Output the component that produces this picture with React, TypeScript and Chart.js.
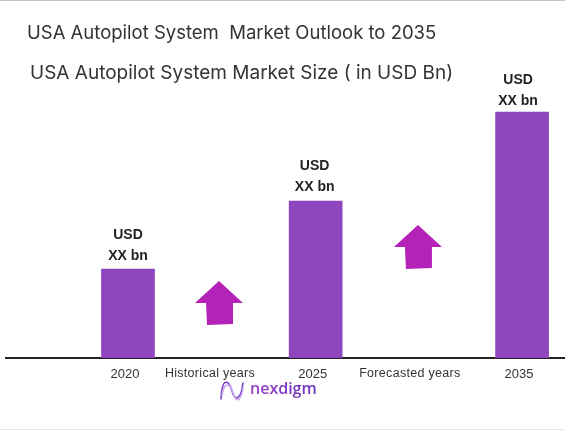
import React, { useEffect, useRef } from "react";
import { Chart, registerables } from "chart.js";

Chart.register(...registerables);

const slots = ["", "", "", "", "", "", "2020", "", "", "", "", "", "", "", "", "", "2025", "", "", "", "", "", "", "", "", "", "", "2035", "", ""];
const marketSize = [null, null, null, null, null, null, 8.9, null, null, null, null, null, null, null, null, null, 15.7, null, null, null, null, null, null, null, null, null, null, 24.6, null, null];
const barLabelTop = ["USD", "USD", "USD"];
const barLabelBottom = ["XX bn", "XX bn", "XX bn"];
const periodLabels = ["Historical years", "Forecasted years"];
const periodSlots = [10.37, 21.02];
const arrowSlots = [10.85, 21.45];
const arrowTops = [7.7, 13.3];
const titleText = "USA Autopilot System  Market Outlook to 2035";
const subtitleText = "USA Autopilot System Market Size ( in USD Bn)";

const overlay = {
  id: "overlay",
  beforeDraw(chart: any) {
    const { ctx, width, height } = chart;
    ctx.save();
    ctx.fillStyle = "#ffffff";
    ctx.fillRect(0, 0, width, height);
    ctx.fillStyle = "#c4c4c4";
    ctx.fillRect(0, 0, width, 1);
    ctx.fillStyle = "#e6e6e6";
    ctx.fillRect(0, height - 1, width, 1);
    ctx.restore();
  },
  afterDraw(chart: any) {
    const { ctx, scales } = chart;
    const x = scales.x;
    const y = scales.y;
    ctx.save();

    // titles
    ctx.textBaseline = "middle";
    ctx.textAlign = "left";
    ctx.fillStyle = "#333333";
    ctx.font = "18.5px Inter";
    ctx.fillText(titleText, 27, 33);
    ctx.font = "19px Inter";
    ctx.fillText(subtitleText, 30, 73);

    // labels over the bars, the reference has them a bit uneven
    const labelNudgeX = [0, -1, -4];
    const labelNudgeY = [0, -1, 2];
    ctx.textAlign = "center";
    ctx.fillStyle = "#222222";
    ctx.font = "bold 14px 'Liberation Sans'";
    let barIndex = 0;
    marketSize.forEach((value, i) => {
      if (value === null) return;
      const bar = chart.getDatasetMeta(0).data[i];
      const lx = bar.x + labelNudgeX[barIndex];
      const ly = bar.y + labelNudgeY[barIndex];
      ctx.fillText(barLabelTop[barIndex], lx, ly - 34);
      ctx.fillText(barLabelBottom[barIndex], lx, ly - 13);
      barIndex += 1;
    });

    // period labels between the bars
    ctx.fillStyle = "#333333";
    ctx.font = "12.5px 'Liberation Sans'";
    ctx.letterSpacing = "0.3px";
    periodLabels.forEach((label, i) => {
      ctx.fillText(label, x.getPixelForValue(periodSlots[i]), 374);
    });
    ctx.letterSpacing = "0px";

    // growth arrows
    ctx.fillStyle = "#b522b8";
    arrowSlots.forEach((slot, i) => {
      const cx = x.getPixelForValue(slot);
      const top = y.getPixelForValue(arrowTops[i]);
      ctx.beginPath();
      ctx.moveTo(cx, top);
      ctx.lineTo(cx + 24, top + 22);
      ctx.lineTo(cx + 14, top + 22);
      ctx.lineTo(cx + 14, top + 43);
      ctx.lineTo(cx - 12, top + 44);
      ctx.lineTo(cx - 13, top + 22);
      ctx.lineTo(cx - 24, top + 22);
      ctx.closePath();
      ctx.fill();
    });

    // logo
    ctx.lineCap = "round";
    ctx.lineWidth = 1.6;
    ctx.strokeStyle = "#7a3fc8";
    ctx.beginPath();
    ctx.moveTo(221, 399);
    ctx.bezierCurveTo(222, 376, 229, 380, 232, 391);
    ctx.bezierCurveTo(235, 402, 241, 400, 243, 383);
    ctx.stroke();
    ctx.strokeStyle = "#c9a9e8";
    ctx.beginPath();
    ctx.moveTo(222, 396);
    ctx.bezierCurveTo(224, 380, 231, 384, 233, 393);
    ctx.bezierCurveTo(236, 403, 241, 402, 243, 388);
    ctx.stroke();

    const gradient = ctx.createLinearGradient(250, 0, 315, 0);
    gradient.addColorStop(0, "#9a3fc4");
    gradient.addColorStop(1, "#6d35c4");
    ctx.fillStyle = gradient;
    ctx.textAlign = "left";
    ctx.font = "600 16px 'Open Sans'";
    ctx.fillText("nexdigm", 250, 389);

    ctx.restore();
  },
};

export default function App() {
  const canvasRef = useRef<HTMLCanvasElement | null>(null);

  useEffect(() => {
    document.body.style.margin = "0";
    if (!canvasRef.current) return;
    const chart = new Chart(canvasRef.current, {
      type: "bar",
      data: {
        labels: slots,
        datasets: [
          {
            data: marketSize,
            backgroundColor: "#8e45bd",
            barThickness: 53,
          },
        ],
      },
      options: {
        animation: false,
        responsive: false,
        layout: { padding: { left: 6, right: 0, top: 0, bottom: 0 } },
        plugins: { legend: { display: false }, tooltip: { enabled: false } },
        scales: {
          x: {
            grid: { display: false, drawTicks: false },
            border: { color: "#222222", width: 2 },
            afterFit(scale: any) {
              scale.height = 72;
            },
            ticks: {
              autoSkip: false,
              maxRotation: 0,
              padding: 9,
              labelOffset: -3,
              color: "#333333",
              font: { family: "Liberation Sans", size: 13 },
            },
          },
          y: { display: false, min: 0, max: 35.8 },
        },
      },
      plugins: [overlay],
    });
    return () => chart.destroy();
  }, []);

  // the canvas runs a little past the window so the slot spacing lands on the bars
  return (
    <div style={{ width: 565, height: 430, overflow: "hidden" }}>
      <canvas ref={canvasRef} width={569} height={430} style={{ display: "block", filter: "blur(0.4px)" }} />
    </div>
  );
}
